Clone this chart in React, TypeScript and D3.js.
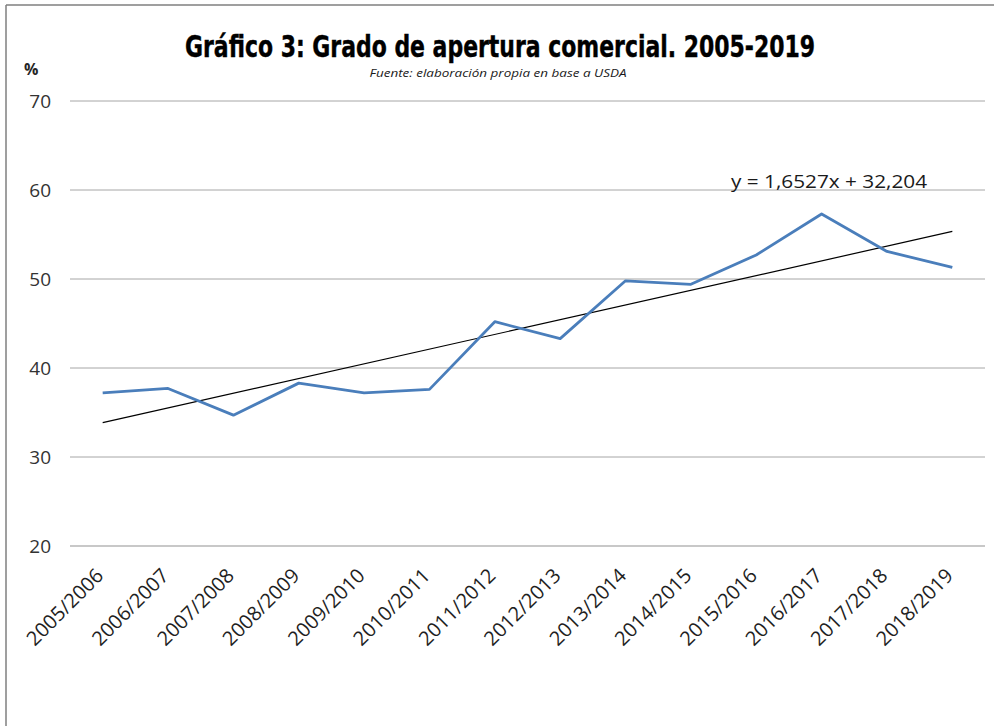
import React from "react";
import * as d3 from "d3";

const categories = [
  "2005/2006", "2006/2007", "2007/2008", "2008/2009", "2009/2010", "2010/2011", "2011/2012",
  "2012/2013", "2013/2014", "2014/2015", "2015/2016", "2016/2017", "2017/2018", "2018/2019",
];
const values = [37.2, 37.7, 34.7, 38.3, 37.2, 37.6, 45.2, 43.3, 49.8, 49.4, 52.7, 57.3, 53.1, 51.3];
const yTicks = [20, 30, 40, 50, 60, 70];
const trendSlope = 1.6527;
const trendIntercept = 32.204;
const equationLabel = "y = 1,6527x + 32,204";
const title = "Gráfico 3: Grado de apertura comercial. 2005-2019";
const subtitle = "Fuente: elaboración propia en base a USDA";

const W = 994;
const H = 726;
const plotLeft = 70;
const plotRight = 985;
const plotTop = 101;
const plotBottom = 546;

export default function App() {
  const x = d3.scaleBand<string>().domain(categories).range([plotLeft, plotRight]).padding(0);
  const cx = (c: string) => (x(c) as number) + x.bandwidth() / 2;
  const y = d3.scaleLinear().domain([20, 70]).range([plotBottom, plotTop]);

  const line = d3
    .line<number>()
    .x((_, i) => cx(categories[i]))
    .y((v) => y(v));

  const trendPts = [1, categories.length].map((k) => ({
    xv: cx(categories[k - 1]),
    yv: y(trendSlope * k + trendIntercept),
  }));

  const font = "'Open Sans', 'DejaVu Sans', sans-serif";

  return (
    <svg
      width={W}
      height={H}
      style={{ position: "absolute", left: 0, top: 0, display: "block", background: "#fff" }}
    >
      <rect x={0} y={0} width={W} height={H} fill="#fff" />
      {/* frame */}
      <line x1={6} y1={5} x2={W} y2={5} stroke="#7f7f7f" strokeWidth={1.5} />
      <line x1={6} y1={5} x2={6} y2={H} stroke="#7f7f7f" strokeWidth={1.5} />

      {/* title */}
      <text
        x={500}
        y={57}
        textAnchor="middle"
        fontFamily="'Liberation Sans Narrow', 'DejaVu Sans Condensed', 'Liberation Sans', sans-serif"
        fontWeight="bold"
        fontSize={30}
        fill="#000"
        stroke="#000"
        strokeWidth={0.4}
        textLength={630}
        lengthAdjust="spacingAndGlyphs"
      >
        {title}
      </text>
      <text
        x={498}
        y={77}
        textAnchor="middle"
        fontFamily={font}
        fontStyle="italic"
        fontSize={10}
        fill="#1a1a1a"
        textLength={257}
        lengthAdjust="spacingAndGlyphs"
      >
        {subtitle}
      </text>
      <text x={24} y={75} fontFamily={font} fontWeight="bold" fontSize={16} fill="#262626">
        %
      </text>

      {/* gridlines */}
      {yTicks.map((t) => (
        <line
          key={t}
          x1={plotLeft}
          x2={plotRight}
          y1={y(t)}
          y2={y(t)}
          stroke={t === 20 ? "#c8c8c8" : "#a6a6a6"}
          strokeWidth={t === 20 ? 2 : 1}
        />
      ))}
      {yTicks.map((t) => (
        <text
          key={"l" + t}
          x={51}
          y={y(t)}
          dy="0.36em"
          textAnchor="end"
          fontFamily={font}
          fontSize={19}
          fill="#333"
        >
          {t}
        </text>
      ))}

      {/* x labels */}
      {categories.map((c) => (
        <text
          key={c}
          transform={`translate(${cx(c) + 2},${577}) rotate(-45)`}
          textAnchor="end"
          fontFamily={font}
          fontSize={20}
          fill="#1f1f1f"
        >
          {c}
        </text>
      ))}

      {/* trend */}
      <line
        x1={trendPts[0].xv}
        y1={trendPts[0].yv}
        x2={trendPts[1].xv}
        y2={trendPts[1].yv}
        stroke="#000"
        strokeWidth={1.2}
      />

      {/* series */}
      <path d={line(values) || ""} fill="none" stroke="#4a7ebb" strokeWidth={2.8} strokeLinejoin="round" />

      <text x={731} y={188} fontFamily={font} fontSize={19} fill="#1a1a1a" textLength={196} lengthAdjust="spacingAndGlyphs">
        {equationLabel}
      </text>
    </svg>
  );
}
